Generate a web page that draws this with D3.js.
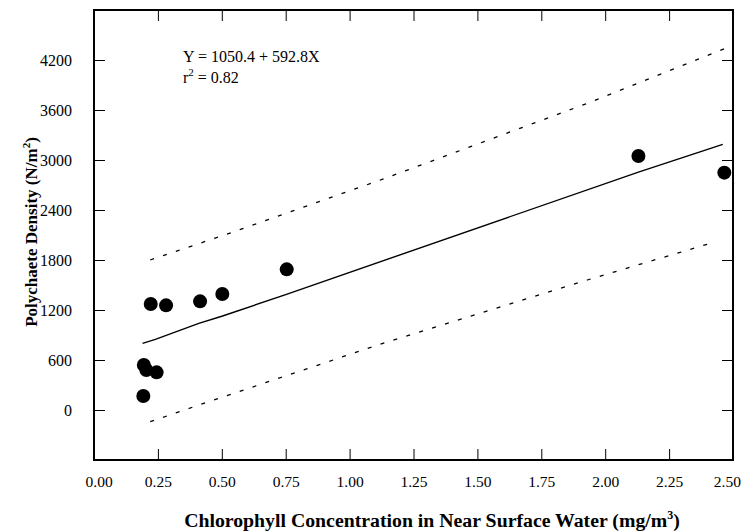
<!DOCTYPE html>
<meta charset="utf-8">
<style>
    body { margin: 0; background: #fff; }
    svg text { font-family: "Liberation Serif", "Times New Roman", serif; fill: #000; }
    .tick line { stroke: #000; stroke-width: 1; }
    .domain { display: none; }
</style>
<body>
<div id="chart"></div>
<script src="https://cdn.jsdelivr.net/npm/d3@7/dist/d3.min.js"></script>
<script>
    // observed points
    var chlorophyll = [0.222, 0.282, 0.415, 0.502, 0.195, 0.205, 0.245, 0.193, 0.754, 2.130, 2.466];
    var density = [1272, 1256, 1304, 1392, 540, 480, 452, 168, 1688, 3048, 2848];

    // fitted line and band
    var fitX = [0.19, 0.24, 0.41, 0.50, 0.75, 2.13, 2.46];
    var fitY = [800, 848, 1040, 1125, 1385, 2855, 3188];
    var upperX = [0.22, 0.52, 1.13, 1.93, 2.47];
    var upperY = [1800, 2110, 2770, 3680, 4340];
    var lowerX = [0.22, 0.42, 1.13, 1.93, 2.42];
    var lowerY = [-140, 70, 800, 1560, 2008];

    var xTicks = [0, 0.25, 0.5, 0.75, 1, 1.25, 1.5, 1.75, 2, 2.25, 2.5];
    var yTicks = [0, 600, 1200, 1800, 2400, 3000, 3600, 4200];

    var width = 745, height = 532;
    var margin = { top: 10, right: 12, bottom: 72, left: 94 };
    var x0 = margin.left, x1 = width - margin.right,
        y0 = margin.top, y1 = height - margin.bottom;

    var x = d3.scaleLinear().domain([0, 2.5]).range([x0, x1]);
    var y = d3.scaleLinear().domain([-600, 4800]).range([y1, y0]);

    var svg = d3.select("#chart").append("svg")
        .attr("width", width)
        .attr("height", height);

    var innerX = xTicks.slice(1, -1);

    // inward ticks on all four sides
    svg.append("g").attr("transform", "translate(0," + y1 + ")")
        .call(d3.axisTop(x).tickValues(innerX).tickSize(11).tickFormat(""));
    svg.append("g").attr("transform", "translate(0," + y0 + ")")
        .call(d3.axisBottom(x).tickValues(innerX).tickSize(11).tickFormat(""));
    svg.append("g").attr("transform", "translate(" + x0 + ",0)")
        .call(d3.axisRight(y).tickValues(yTicks).tickSize(11).tickFormat(""));
    svg.append("g").attr("transform", "translate(" + x1 + ",0)")
        .call(d3.axisLeft(y).tickValues(yTicks).tickSize(11).tickFormat(""));

    // tick labels
    svg.append("g").attr("transform", "translate(0," + y1 + ")")
        .call(d3.axisBottom(x).tickValues(xTicks).tickSize(0).tickPadding(16)
            .tickFormat(d3.format(".2f")))
        .selectAll("text")
        .style("font-size", "15.5px")
        .attr("dx", function (d) { return d === 2.5 ? "-0.4em" : (d === 0 ? "0.3em" : 0); });
    svg.append("g").attr("transform", "translate(" + x0 + ",0)")
        .call(d3.axisLeft(y).tickValues(yTicks).tickSize(0).tickPadding(22)
            .tickFormat(d3.format("d")))
        .selectAll("text").style("font-size", "16px");

    // frame
    svg.append("rect")
        .attr("x", x0).attr("y", y0)
        .attr("width", x1 - x0).attr("height", y1 - y0)
        .attr("fill", "none").attr("stroke", "#000").attr("stroke-width", 2);

    var line = d3.line()
        .x(function (d) { return x(d[0]); })
        .y(function (d) { return y(d[1]); });

    svg.append("path")
        .datum(d3.zip(fitX, fitY))
        .attr("d", line)
        .attr("fill", "none").attr("stroke", "#000").attr("stroke-width", 1.4);

    [d3.zip(upperX, upperY), d3.zip(lowerX, lowerY)].forEach(function (band) {
        svg.append("path")
            .datum(band)
            .attr("d", line)
            .attr("fill", "none").attr("stroke", "#000").attr("stroke-width", 1.3)
            .attr("stroke-dasharray", "4,9.5");
    });

    svg.selectAll(".pt")
        .data(d3.zip(chlorophyll, density))
        .enter().append("circle")
        .attr("class", "pt")
        .attr("cx", function (d) { return x(d[0]); })
        .attr("cy", function (d) { return y(d[1]); })
        .attr("r", 7)
        .attr("fill", "#000");

    // equation
    svg.append("text")
        .attr("x", 183).attr("y", 62)
        .style("font-size", "16px")
        .text("Y = 1050.4 + 592.8X");
    var r2 = svg.append("text")
        .attr("x", 183).attr("y", 83)
        .style("font-size", "16px");
    r2.append("tspan").text("r");
    r2.append("tspan").attr("dy", -7).style("font-size", "11px").text("2");
    r2.append("tspan").attr("dy", 7).text(" = 0.82");

    // axis titles
    var xt = svg.append("text")
        .attr("x", 432).attr("y", 527)
        .attr("text-anchor", "middle")
        .style("font-size", "19.8px").style("font-weight", "bold");
    xt.append("tspan").text("Chlorophyll Concentration in Near Surface Water (mg/m");
    xt.append("tspan").attr("dy", -8).style("font-size", "12px").text("3");
    xt.append("tspan").attr("dy", 8).text(")");

    var yt = svg.append("text")
        .attr("transform", "translate(37,232) rotate(-90)")
        .attr("text-anchor", "middle")
        .style("font-size", "17px").style("font-weight", "bold");
    yt.append("tspan").text("Polychaete Density (N/m");
    yt.append("tspan").attr("dy", -7).style("font-size", "11px").text("2");
    yt.append("tspan").attr("dy", 7).text(")");
</script>
</body>
